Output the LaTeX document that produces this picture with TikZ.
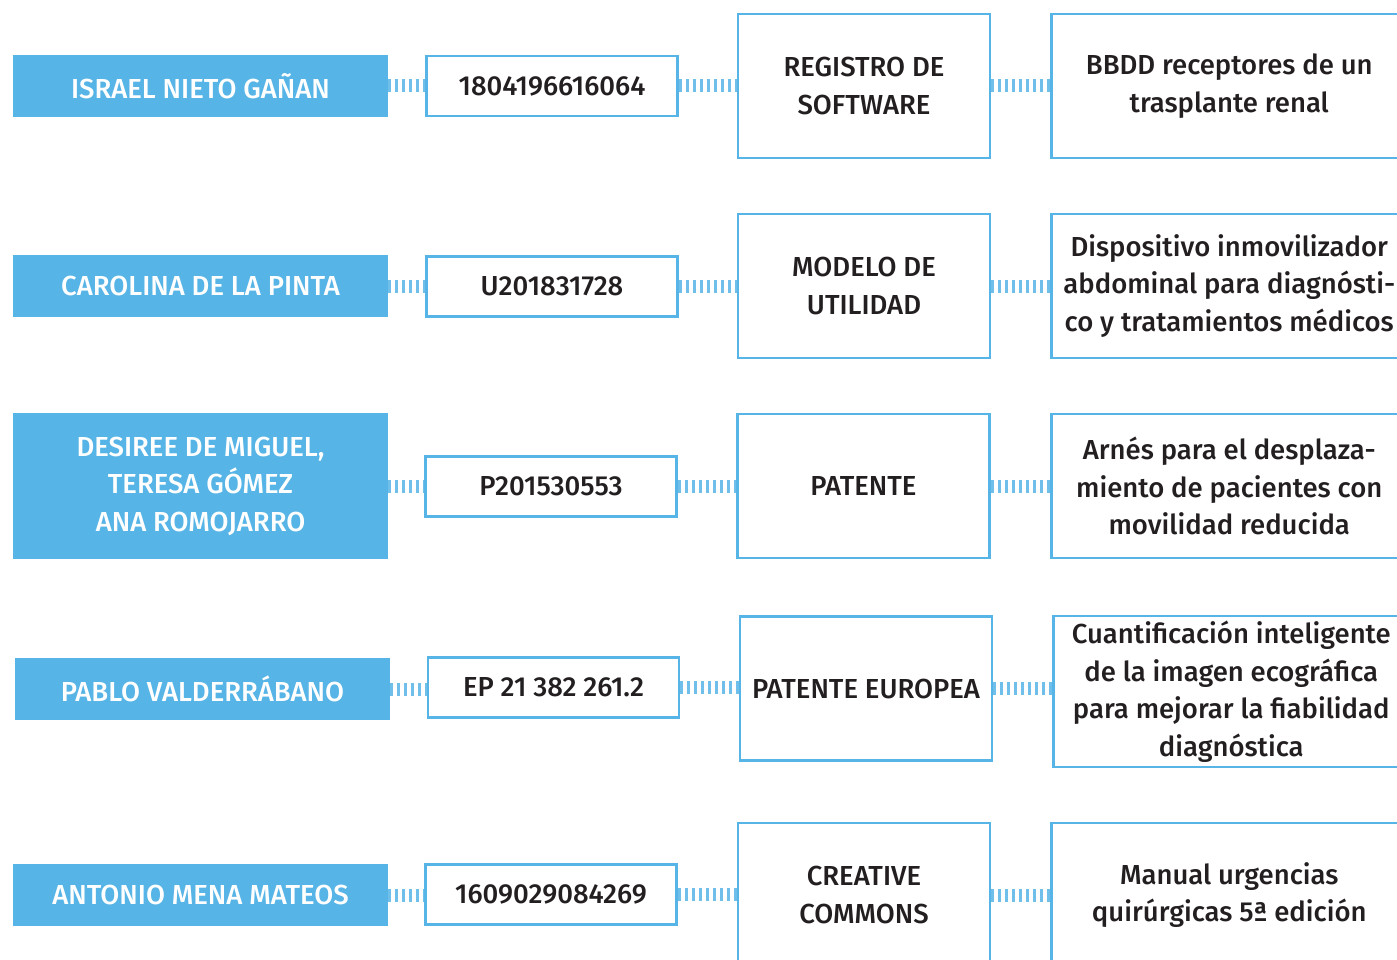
\documentclass[tikz,border=0pt]{standalone}
\usepackage{fontspec}
\setmainfont{Fira Sans}[UprightFont=* Medium]
\definecolor{regblue}{HTML}{56B4E6}
\definecolor{textgray}{HTML}{231F20}

\begin{document}
\begin{tikzpicture}[
    x=1pt, y=-1pt,
    author/.style={rectangle, fill=regblue, text=white, minimum width=375pt, minimum height=62pt, align=center, font=\fontsize{27.5}{37.5}\selectfont},
    code/.style={rectangle, draw=regblue, line width=2.5pt, fill=white, text=textgray, minimum width=251pt, minimum height=60pt, font=\fontsize{27.5}{37.5}\selectfont},
    kind/.style={rectangle, draw=regblue, line width=2.5pt, fill=white, text=textgray, minimum width=252pt, minimum height=144pt, align=center, font=\fontsize{27.5}{37.5}\selectfont},
    work/.style={kind, minimum width=356pt, anchor=west},
    ticks/.style={regblue!85, line width=13pt, dash pattern=on 3pt off 4pt}
]
\useasboundingbox (0,0) rectangle (1397,960);
\clip (0,0) rectangle (1397,960);

% Authors
\node[author] (israel) at (200.5,86) {ISRAEL NIETO GAÑAN};
\node[author] (carolina) at (200.5,286) {CAROLINA DE LA PINTA};
\node[author, minimum height=146pt] (desiree) at (200.5,486) {DESIREE DE MIGUEL,\\TERESA GÓMEZ\\ANA ROMOJARRO};
\node[author] (pablo) at (202.5,689) {PABLO VALDERRÁBANO};
\node[author] (antonio) at (200.5,895) {ANTONIO MENA MATEOS};

% Registration numbers
\node[code] (n1804) at (552,86) {1804196616064};
\node[code] (nU2018) at (552,286.5) {U201831728};
\node[code] (nP2015) at (551,486.5) {P201530553};
\node[code] (nEP21) at (553.5,687.5) {EP 21 382 261.2};
\node[code] (n1609) at (551,894.5) {1609029084269};

% Kind of registration
\node[kind] (software) at (864,86) {REGISTRO DE\\SOFTWARE};
\node[kind] (utilidad) at (864,286) {MODELO DE\\UTILIDAD};
\node[kind] (patente) at (863.5,486) {PATENTE};
\node[kind] (europea) at (866,688.5) {PATENTE EUROPEA};
\node[kind] (creative) at (864,895) {CREATIVE\\COMMONS};

% Works
\node[work] (bbdd) at (1050,86) {BBDD receptores de un\\trasplante renal};
\node[work] (dispositivo) at (1050,286) {Dispositivo inmovilizador\\abdominal para diagnósti-\\co y tratamientos médicos};
\node[work] (arnes) at (1050,486) {Arnés para el desplaza-\\miento de pacientes con\\movilidad reducida};
\node[work, minimum height=151pt] (cuantificacion) at (1052,691.5) {Cuantificación inteligente\\de la imagen ecográfica\\para mejorar la fiabilidad\\diagnóstica};
\node[work] (manual) at (1050,895) {Manual urgencias\\quirúrgicas 5ª edición};

% Connectors
\foreach \a/\b/\c/\d in {israel/n1804/software/bbdd, carolina/nU2018/utilidad/dispositivo, desiree/nP2015/patente/arnes, pablo/nEP21/europea/cuantificacion, antonio/n1609/creative/manual} {
    \draw[ticks] (\a.east) -- (\a.east -| \b.west);
    \draw[ticks] (\b.east) -- (\b.east -| \c.west);
    \draw[ticks] (\c.east) -- (\c.east -| \d.west);
}

\end{tikzpicture}
\end{document}
